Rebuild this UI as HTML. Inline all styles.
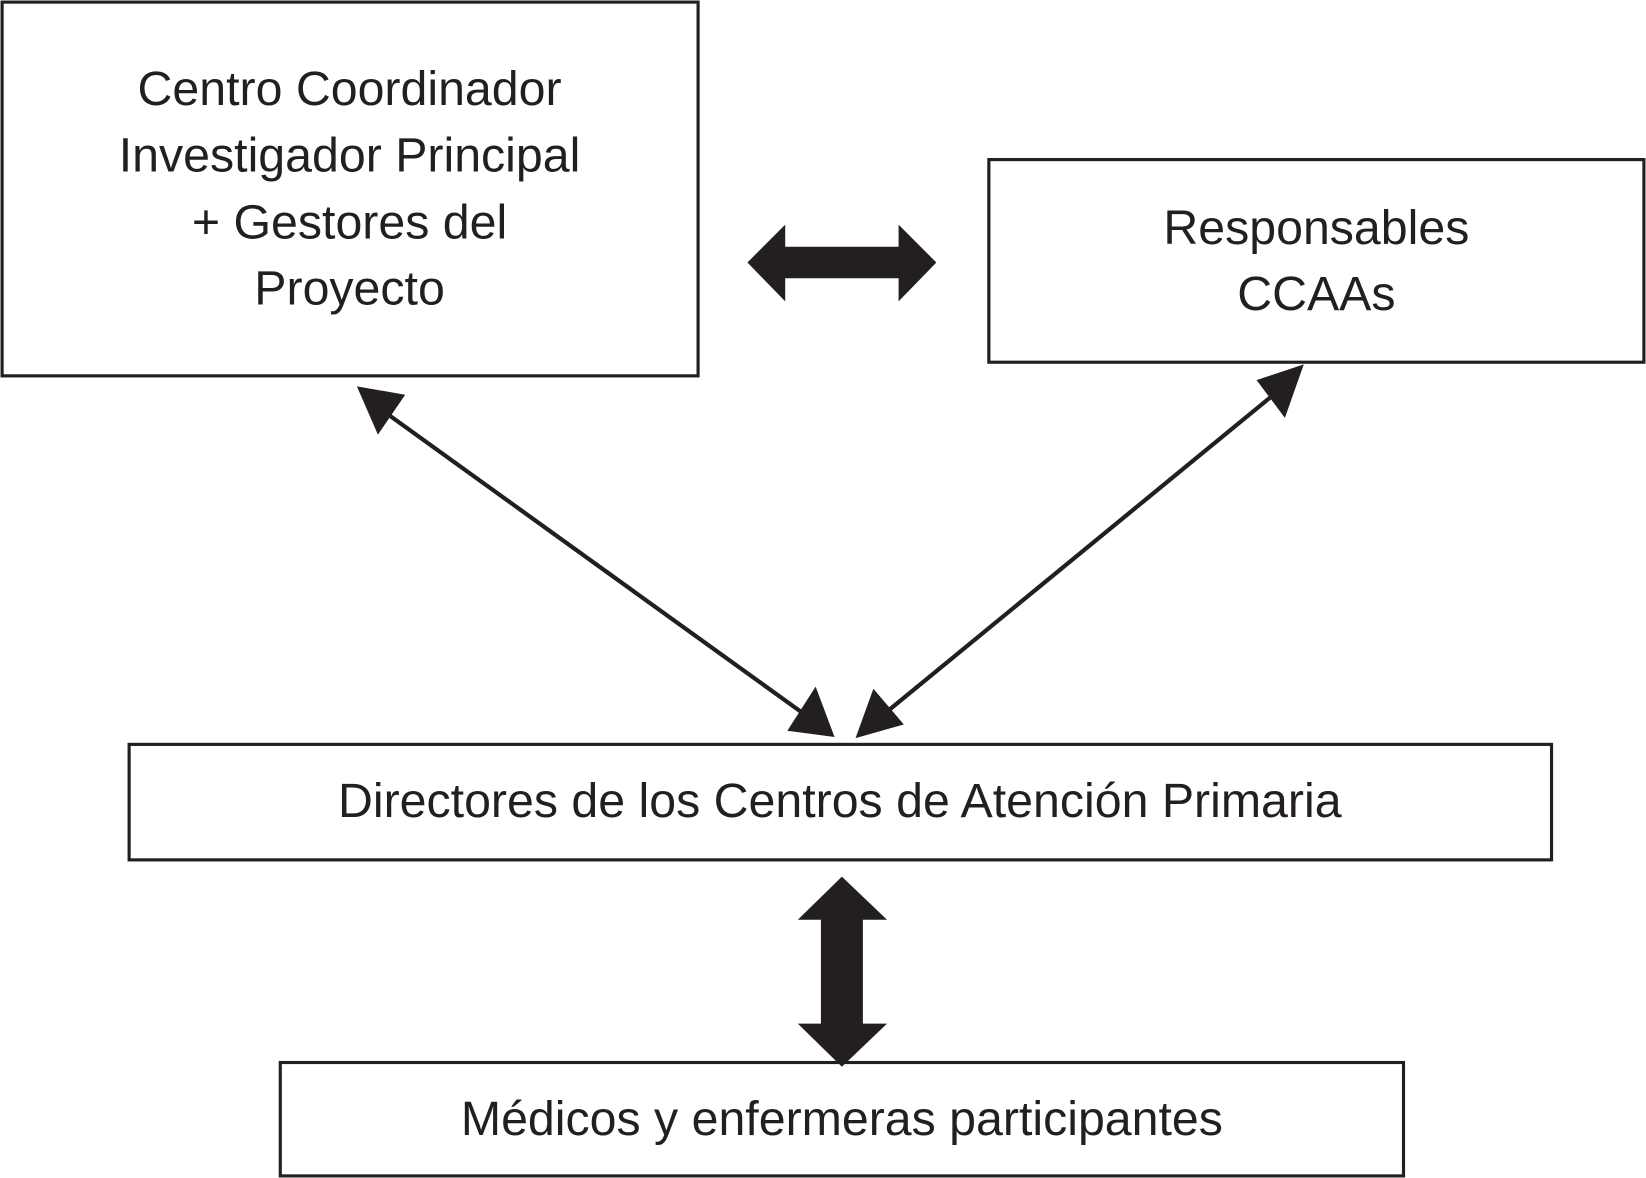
<!DOCTYPE html>
<html><head><meta charset="utf-8"><style>html,body{margin:0;padding:0;background:#fff}svg{display:block}text{font-family:"Liberation Sans",sans-serif;font-size:46px;fill:#231f20;text-anchor:middle;dominant-baseline:central}</style></head>
<body>
<svg width="1646" height="1178" viewBox="0 0 1568 1122" preserveAspectRatio="none" xmlns="http://www.w3.org/2000/svg">
<defs>
<marker id="ah" markerWidth="10" markerHeight="10" refX="9" refY="5" orient="auto-start-reverse" markerUnits="userSpaceOnUse" viewBox="0 0 10 10" style="overflow:visible">
<path d="M0,0 L10,5 L0,10 Z" fill="#231f20" transform="scale(1)"/>
</marker>
</defs>
<g fill="#fff" stroke="#231f20" stroke-width="3">
<rect x="2" y="2" width="663" height="356"/>
<rect x="942" y="152" width="624" height="193"/>
<rect x="123" y="709" width="1355" height="110"/>
<rect x="267" y="1012" width="1070" height="108"/>
</g>
<text x="333" y="85">Centro Coordinador</text>
<text x="333" y="148">Investigador Principal</text>
<text x="333" y="212">+ Gestores del</text>
<text x="333" y="275">Proyecto</text>
<text x="1254" y="217">Responsables</text>
<text x="1254" y="280">CCAAs</text>
<text x="800" y="763">Directores de los Centros de Atención Primaria</text>
<text x="802" y="1066">Médicos y enfermeras participantes</text>
<!-- thick horizontal -->
<path d="M712,250 L748,214 L748,235 L856,235 L856,214 L892,250 L856,287 L856,265 L748,265 L748,287 Z" fill="#231f20"/>
<!-- thick vertical -->
<path d="M802,835 L845,876 L822,876 L822,975 L845,975 L802,1016 L760,975 L782,975 L782,876 L760,876 Z" fill="#231f20"/>
<!-- thin arrows -->
<g stroke="#231f20" stroke-width="4">
<line x1="370" y1="395" x2="770" y2="683"/>
<line x1="1218" y1="372" x2="835" y2="686"/>
</g>
<path d="M340,368 L386,376 L360,414 Z" fill="#231f20"/>
<path d="M795,702 L750,696 L777,654 Z" fill="#231f20"/>
<path d="M1242,347 L1224,398 L1197,362 Z" fill="#231f20"/>
<path d="M815,703 L832,656 L861,690 Z" fill="#231f20"/>
</svg>
</body></html>
